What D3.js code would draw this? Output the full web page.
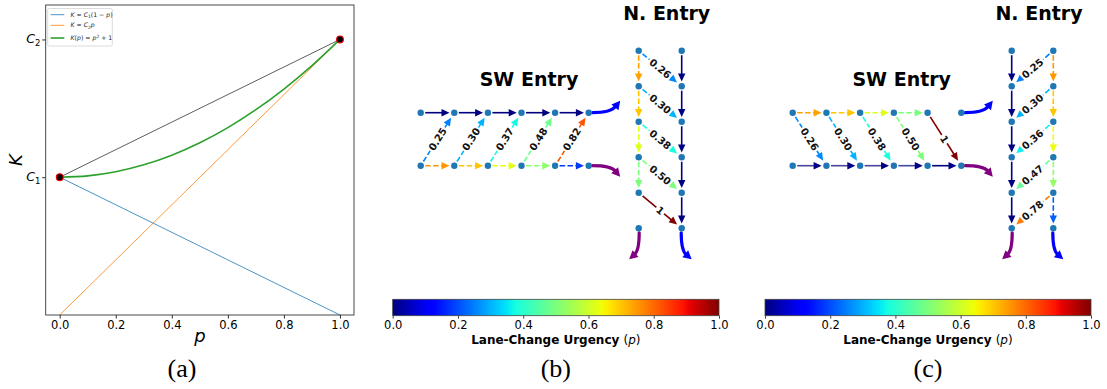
<!DOCTYPE html>
<html><head><meta charset="utf-8">
<script src="https://cdn.jsdelivr.net/npm/d3@7"></script>
<style>
html,body{margin:0;padding:0;background:#fff;}
svg{display:block;font-family:"DejaVu Sans",sans-serif;}
</style></head><body>
<svg id="fig" width="1107" height="389"></svg>
<script>
// ---------------- data ----------------
// (a) cost curve K(p)
const pTicks = [0, 0.2, 0.4, 0.6, 0.8, 1.0];
const kTicks = [1, 2];
const kTickSubs = ["1", "2"];
const curveP = [0, 0.1, 0.2, 0.3, 0.4, 0.5, 0.6, 0.7, 0.8, 0.9, 1.0];
const curveK = [1, 1.01, 1.04, 1.09, 1.16, 1.25, 1.36, 1.49, 1.64, 1.81, 2];
const lineP = [0, 1];
const decreasingK = [1, 0];   // K = C1 (1 - p)
const increasingK = [0, 2];   // K = C2 p
const chordK = [1, 2];        // chord between the two end points
const endP = [0, 1];
const endK = [1, 2];

// (b) lane-change urgency on each link
const bSwChange  = [0.25, 0.30, 0.37, 0.48, 0.82];
const bSwStay    = [0.75, 0.70, 0.63, 0.52, 0.18];
const bSwThrough = [0, 0, 0, 0, 0];
const bNChange   = [0.26, 0.30, 0.38, 0.50, 1];
const bNStay     = [0.74, 0.70, 0.62, 0.50];
const bNThrough  = [0, 0, 0, 0, 0];

// (c) lane-change urgency on each link
const cSwChange  = [0.26, 0.30, 0.38, 0.50, 1];
const cSwStay    = [0.74, 0.70, 0.62, 0.50];
const cSwThrough = [0, 0, 0, 0, 0];
const cNChange   = [0.25, 0.30, 0.36, 0.47, 0.78];
const cNStay     = [0.75, 0.70, 0.64, 0.53, 0.22];
const cNThrough  = [0, 0, 0, 0, 0];

const cbTicks = [0, 0.2, 0.4, 0.6, 0.8, 1.0];
const steps = [0, 1, 2, 3, 4, 5];

// ---------------- helpers ----------------
const svg = d3.select("#fig");
svg.append("rect").attr("width", 1107).attr("height", 389).attr("fill", "#fff");

// matplotlib "jet" colormap
const jr = d3.scaleLinear().domain([0, 0.35, 0.66, 0.89, 1]).range([0, 0, 1, 1, 0.5]).clamp(true);
const jg = d3.scaleLinear().domain([0, 0.125, 0.375, 0.64, 0.91, 1]).range([0, 0, 1, 1, 0, 0]).clamp(true);
const jb = d3.scaleLinear().domain([0, 0.11, 0.34, 0.65, 1]).range([0.5, 1, 1, 0, 0]).clamp(true);
const jet = v => d3.rgb(jr(v) * 255, jg(v) * 255, jb(v) * 255).formatHex();

const NODE_BLUE = "#1f77b4";

function arrow(g, a, b, value, opt = {}) {
  const color = jet(value);
  const dashed = value > 0 && value < 1;
  const shrinkA = opt.shrinkA ?? 4.5, shrinkB = opt.shrinkB ?? 4.8;
  const head = 8, hw = 3.7;
  const dx = b[0] - a[0], dy = b[1] - a[1], L = Math.hypot(dx, dy);
  const ux = dx / L, uy = dy / L;
  const sx = a[0] + ux * shrinkA, sy = a[1] + uy * shrinkA;
  const tx = b[0] - ux * shrinkB, ty = b[1] - uy * shrinkB;
  const bx = tx - ux * head, by = ty - uy * head;
  g.append("line")
    .attr("x1", sx).attr("y1", sy).attr("x2", bx + ux * 1).attr("y2", by + uy * 1)
    .attr("stroke", color).attr("stroke-width", 1.6)
    .attr("stroke-opacity", opt.shaftOpacity ?? 1)
    .attr("stroke-dasharray", dashed ? "5.5,2.4" : null);
  g.append("path")
    .attr("d", `M${tx},${ty}L${bx - uy * hw},${by + ux * hw}L${bx + uy * hw},${by - ux * hw}Z`)
    .attr("fill", color);
}

function edgeLabel(g, a, b, value) {
  const mx = (a[0] + b[0]) / 2, my = (a[1] + b[1]) / 2;
  let ang = Math.atan2(b[1] - a[1], b[0] - a[0]) * 180 / Math.PI;
  if (ang > 90) ang -= 180;
  if (ang <= -90) ang += 180;
  const txt = value === 1 ? "1" : d3.format(".2f")(value);
  const lg = g.append("g").attr("transform", `translate(${mx},${my}) rotate(${ang})`);
  const t = lg.append("text").attr("text-anchor", "middle").attr("dy", "0.36em")
    .attr("font-size", 10).attr("font-weight", "bold").attr("fill", "#111").text(txt);
  const w = t.node().getComputedTextLength();
  lg.insert("rect", "text").attr("x", -w / 2 - 1.5).attr("y", -6)
    .attr("width", w + 3).attr("height", 12).attr("rx", 2).attr("fill", "#fff");
}

function exitCurve(g, p, c, color) {
  // p: node centre, c: start / control / tip offsets
  const start = [p[0] + c.s[0], p[1] + c.s[1]];
  const ctrl = [p[0] + c.c[0], p[1] + c.c[1]];
  const tip = [p[0] + c.e[0], p[1] + c.e[1]];
  const dx = tip[0] - ctrl[0], dy = tip[1] - ctrl[1], L = Math.hypot(dx, dy);
  const ux = dx / L, uy = dy / L, head = 8.5, hw = 4.5;
  const base = [tip[0] - ux * head, tip[1] - uy * head];
  g.append("path")
    .attr("d", `M${start[0]},${start[1]}Q${ctrl[0]},${ctrl[1]} ${base[0] + ux},${base[1] + uy}`)
    .attr("fill", "none").attr("stroke", color).attr("stroke-width", 3.2).attr("stroke-linecap", "round");
  g.append("path")
    .attr("d", `M${tip[0]},${tip[1]}L${base[0] - uy * hw},${base[1] + ux * hw}L${base[0] + uy * hw},${base[1] - ux * hw}Z`)
    .attr("fill", color);
}

// ---------------- panel (a) ----------------
(function panelA() {
  const g = svg.append("g");
  const x = d3.scaleLinear().domain([-0.05, 1.05]).range([45.7, 354]);
  const y = d3.scaleLinear().domain([0, 2.25]).range([315, 5]);
  const line = d3.line().x(d => x(d[0])).y(d => y(d[1]));

  g.append("path").datum(d3.zip(lineP, decreasingK)).attr("d", line)
    .attr("fill", "none").attr("stroke", "#1f77b4").attr("stroke-width", 0.8);
  g.append("path").datum(d3.zip(lineP, increasingK)).attr("d", line)
    .attr("fill", "none").attr("stroke", "#ff7f0e").attr("stroke-width", 0.8);
  g.append("path").datum(d3.zip(lineP, chordK)).attr("d", line)
    .attr("fill", "none").attr("stroke", "#333").attr("stroke-width", 0.8);
  g.append("path").datum(d3.zip(curveP, curveK)).attr("d", line.curve(d3.curveCatmullRom))
    .attr("fill", "none").attr("stroke", "#2ca02c").attr("stroke-width", 1.6);
  g.selectAll("circle.end").data(d3.zip(endP, endK)).join("circle")
    .attr("cx", d => x(d[0])).attr("cy", d => y(d[1])).attr("r", 3.4)
    .attr("fill", "#000").attr("stroke", "#e00").attr("stroke-width", 1.1);

  // frame
  g.append("rect").attr("x", 45.7).attr("y", 5).attr("width", 308.3).attr("height", 310)
    .attr("fill", "none").attr("stroke", "#333").attr("stroke-width", 0.9);

  const xa = g.append("g").attr("transform", "translate(0,315)")
    .call(d3.axisBottom(x).tickValues(pTicks).tickFormat(d3.format(".1f")).tickSize(3.5).tickPadding(2.5));
  xa.select(".domain").remove();
  xa.selectAll("text").attr("font-size", 11.5).attr("fill", "#000").attr("font-family", "DejaVu Sans");
  xa.selectAll("line").attr("stroke", "#333");

  const ya = g.append("g").attr("transform", "translate(45.7,0)")
    .call(d3.axisLeft(y).tickValues(kTicks).tickFormat("").tickSize(3.5));
  ya.select(".domain").remove();
  ya.selectAll("line").attr("stroke", "#333");
  kTicks.forEach((k, i) => {
    const t = g.append("text").attr("x", 40.5).attr("y", y(k) + 4).attr("text-anchor", "end")
      .attr("font-size", 12.5);
    t.append("tspan").attr("font-style", "italic").text("C");
    t.append("tspan").attr("font-size", 8.5).attr("dy", 2.5).text(kTickSubs[i]);
  });

  g.append("text").attr("transform", "translate(21.5,160) rotate(-90)").attr("text-anchor", "middle")
    .attr("font-size", 18).attr("font-style", "italic").text("K");
  g.append("text").attr("x", 200).attr("y", 342).attr("text-anchor", "middle")
    .attr("font-size", 18).attr("font-style", "italic").text("p");

  // legend
  const lg = g.append("g");
  lg.append("rect").attr("x", 47.7).attr("y", 8.5).attr("width", 64.6).attr("height", 37.5).attr("rx", 1.5)
    .attr("fill", "#fff").attr("stroke", "#ccc").attr("stroke-width", 0.7);
  const entries = [
    { c: "#1f77b4", w: 0.8, y: 14.7, parts: [["K = C", "i"], ["1", "s"], ["(1 − ", "n"], ["p", "i"], [")", "n"]] },
    { c: "#ff7f0e", w: 0.8, y: 25.3, parts: [["K = C", "i"], ["2", "s"], ["p", "i"]] },
    { c: "#2ca02c", w: 1.6, y: 38, parts: [["K", "i"], ["(", "n"], ["p", "i"], [") = ", "n"], ["p", "i"], ["2", "u"], [" + 1", "n"]] }
  ];
  entries.forEach(e => {
    lg.append("line").attr("x1", 50.7).attr("x2", 64.3).attr("y1", e.y).attr("y2", e.y)
      .attr("stroke", e.c).attr("stroke-width", e.w);
    const t = lg.append("text").attr("x", 70.5).attr("y", e.y + 2).attr("font-size", 6.2).attr("fill", "#222");
    let shift = 0;
    e.parts.forEach(([s, k]) => {
      const ts = t.append("tspan").text(s);
      if (k === "i") ts.attr("font-style", "italic");
      let target = 0;
      if (k === "s") { ts.attr("font-size", 4.4); target = 1.2; }
      if (k === "u") { ts.attr("font-size", 4.4); target = -2.2; }
      ts.attr("dy", target - shift); shift = target;
    });
  });

  g.append("text").attr("x", 182).attr("y", 377).attr("text-anchor", "middle")
    .attr("font-family", "Liberation Serif").attr("font-size", 26).text("(a)");
})();

// ---------------- network panels ----------------
function networkPanel(cfg) {
  const g = svg.append("g");
  const sx = d3.scaleLinear().domain([0, 5]).range(cfg.swX);
  const swLaneY = d3.scaleOrdinal().domain(["top", "bottom"]).range(cfg.swY);
  const ny = d3.scaleLinear().domain([0, 5]).range(cfg.nY);
  const nColX = d3.scaleOrdinal().domain(["left", "right"]).range(cfg.nX);

  const sw = (i, lane) => [sx(i), swLaneY(lane)];
  const nn = (i, col) => [nColX(col), ny(i)];

  const edges = g.append("g"), labels = g.append("g"), nodes = g.append("g");

  // SW approach
  cfg.swThrough.forEach((v, i) => arrow(edges, sw(i, cfg.swThroughLane), sw(i + 1, cfg.swThroughLane), v,
    { shaftOpacity: cfg.swThroughOpacity ? cfg.swThroughOpacity(i) : 1 }));
  cfg.swStay.forEach((v, i) => arrow(edges, sw(i, cfg.swChangeLane), sw(i + 1, cfg.swChangeLane), v));
  cfg.swChange.forEach((v, i) => {
    const a = sw(i, cfg.swChangeLane), b = sw(i + 1, cfg.swThroughLane);
    arrow(edges, a, b, v, { shrinkA: 5, shrinkB: 6 });
    edgeLabel(labels, a, b, v);
  });
  // N approach
  cfg.nThrough.forEach((v, i) => arrow(edges, nn(i, cfg.nThroughCol), nn(i + 1, cfg.nThroughCol), v));
  cfg.nStay.forEach((v, i) => arrow(edges, nn(i, cfg.nChangeCol), nn(i + 1, cfg.nChangeCol), v));
  cfg.nChange.forEach((v, i) => {
    const a = nn(i, cfg.nChangeCol), b = nn(i + 1, cfg.nThroughCol);
    arrow(edges, a, b, v, { shrinkA: 5, shrinkB: 6 });
    edgeLabel(labels, a, b, v);
  });

  // exits
  exitCurve(edges, sw(5, "top"), { s: [4, 0], c: [22, 0], e: [31.5, -12] }, "#0000ff");
  exitCurve(edges, sw(5, "bottom"), { s: [4, 0], c: [22, 0], e: [31.5, 11] }, "#800080");
  exitCurve(edges, nn(5, "left"), { s: [0.5, 4.5], c: [0.5, 22], e: [-9.5, 31] }, "#800080");
  exitCurve(edges, nn(5, "right"), { s: [-0.5, 4.5], c: [-0.5, 22], e: [10, 31] }, "#0000ff");

  // nodes
  const allNodes = [];
  steps.forEach(i => { allNodes.push(sw(i, "top"), sw(i, "bottom"), nn(i, "left"), nn(i, "right")); });
  nodes.selectAll("circle").data(allNodes).join("circle")
    .attr("cx", d => d[0]).attr("cy", d => d[1]).attr("r", 3.2).attr("fill", NODE_BLUE);

  // titles
  g.append("text").attr("x", cfg.swTitle[0]).attr("y", cfg.swTitle[1]).attr("text-anchor", "middle")
    .attr("font-size", 19).attr("font-weight", "bold").text("SW Entry");
  g.append("text").attr("x", cfg.nTitle[0]).attr("y", cfg.nTitle[1]).attr("text-anchor", "middle")
    .attr("font-size", 19).attr("font-weight", "bold").text("N. Entry");

  // colour bar
  const cb = d3.scaleLinear().domain([0, 1]).range(cfg.cbX);
  const gid = "jet-" + cfg.id;
  const grad = svg.append("defs").append("linearGradient").attr("id", gid)
    .attr("x1", "0%").attr("x2", "100%").attr("y1", "0%").attr("y2", "0%");
  d3.range(0, 1.0001, 0.01).forEach(v => grad.append("stop").attr("offset", v).attr("stop-color", jet(v)));
  g.append("rect").attr("x", cfg.cbX[0]).attr("y", 299.3).attr("width", cfg.cbX[1] - cfg.cbX[0]).attr("height", 16.4)
    .attr("fill", `url(#${gid})`).attr("stroke", "#444").attr("stroke-width", 0.8);
  const ca = g.append("g").attr("transform", "translate(0,315.7)")
    .call(d3.axisBottom(cb).tickValues(cbTicks).tickFormat(d3.format(".1f")).tickSize(3).tickPadding(2));
  ca.select(".domain").remove();
  ca.selectAll("text").attr("font-size", 11.5).attr("fill", "#000").attr("font-family", "DejaVu Sans");
  ca.selectAll("line").attr("stroke", "#444");
  const lab = g.append("text").attr("x", (cfg.cbX[0] + cfg.cbX[1]) / 2).attr("y", 344).attr("text-anchor", "middle")
    .attr("font-size", 12);
  lab.append("tspan").attr("font-weight", "bold").text("Lane-Change Urgency ");
  lab.append("tspan").text("(");
  lab.append("tspan").attr("font-style", "italic").text("p");
  lab.append("tspan").text(")");

  g.append("text").attr("x", (cfg.cbX[0] + cfg.cbX[1]) / 2).attr("y", 377).attr("text-anchor", "middle")
    .attr("font-family", "Liberation Serif").attr("font-size", 26).text(cfg.caption);
}

networkPanel({
  id: "b", caption: "(b)",
  swX: [420.7, 588.7], swY: [112.7, 165.7], nX: [638.7, 681.7], nY: [50.7, 228.3],
  swThroughLane: "top", swChangeLane: "bottom",
  swThrough: bSwThrough, swStay: bSwStay, swChange: bSwChange,
  nThroughCol: "right", nChangeCol: "left",
  nThrough: bNThrough, nStay: bNStay, nChange: bNChange,
  swTitle: [529, 86], nTitle: [666.7, 20], cbX: [392.7, 719]
});

networkPanel({
  id: "c", caption: "(c)",
  swX: [792.7, 961.3], swY: [112.7, 165.7], nX: [1011.7, 1053.3], nY: [50.7, 228.3],
  swThroughLane: "bottom", swChangeLane: "top",
  swThrough: cSwThrough, swStay: cSwStay, swChange: cSwChange,
  swThroughOpacity: i => (i < 4 ? 0.72 : 1),
  nThroughCol: "left", nChangeCol: "right",
  nThrough: cNThrough, nStay: cNStay, nChange: cNChange,
  swTitle: [901.7, 86], nTitle: [1039, 20], cbX: [765, 1091]
});
</script>
</body></html>
